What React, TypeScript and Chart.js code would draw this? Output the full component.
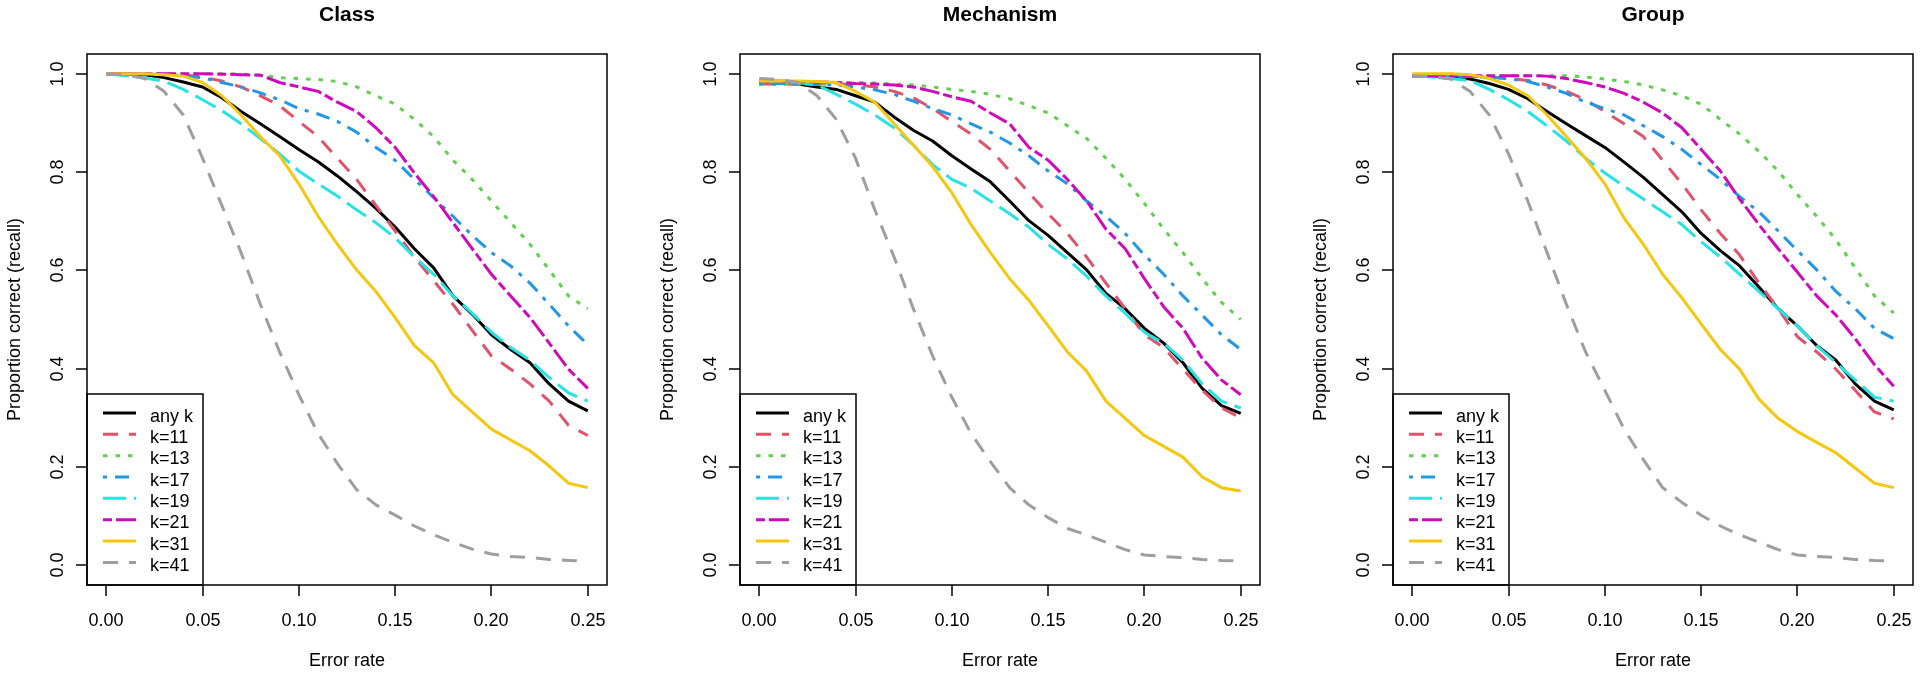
import React, { useEffect, useRef } from "react";
import { Chart, registerables } from "chart.js";

Chart.register(...registerables);

// ---------- data ----------
const X_VALUES = [
  0.0, 0.01, 0.02, 0.03, 0.04, 0.05, 0.06, 0.07, 0.08, 0.09, 0.1, 0.11, 0.12,
  0.13, 0.14, 0.15, 0.16, 0.17, 0.18, 0.19, 0.2, 0.21, 0.22, 0.23, 0.24, 0.25,
];
const X_TICKS = [0, 0.05, 0.1, 0.15, 0.2, 0.25];
const X_TICK_LABELS = ["0.00", "0.05", "0.10", "0.15", "0.20", "0.25"];
const Y_TICKS = [0, 0.2, 0.4, 0.6, 0.8, 1.0];
const Y_TICK_LABELS = ["0.0", "0.2", "0.4", "0.6", "0.8", "1.0"];
const SERIES_LABELS = ["any k", "k=11", "k=13", "k=17", "k=19", "k=21", "k=31", "k=41"];
const PANEL_TITLES = ["Class", "Mechanism", "Group"];
const X_TITLE = "Error rate";
const Y_TITLE = "Proportion correct (recall)";

// Class
const CLASS_ANY = [1.0, 1.0, 0.998, 0.992, 0.983, 0.973, 0.951, 0.923, 0.898, 0.872, 0.846, 0.821, 0.792, 0.76, 0.726, 0.688, 0.644, 0.605, 0.548, 0.511, 0.469, 0.439, 0.412, 0.369, 0.334, 0.314];
const CLASS_K11 = [1.0, 1.0, 1.0, 0.999, 0.998, 0.993, 0.985, 0.973, 0.955, 0.935, 0.903, 0.872, 0.828, 0.785, 0.732, 0.68, 0.627, 0.579, 0.531, 0.478, 0.426, 0.399, 0.369, 0.334, 0.285, 0.264];
const CLASS_K13 = [1.0, 1.0, 1.0, 1.0, 1.0, 1.0, 1.0, 0.999, 0.997, 0.992, 0.99, 0.988, 0.984, 0.973, 0.955, 0.938, 0.907, 0.872, 0.824, 0.785, 0.741, 0.697, 0.653, 0.601, 0.548, 0.522];
const CLASS_K17 = [1.0, 1.0, 0.999, 0.998, 0.995, 0.992, 0.982, 0.973, 0.961, 0.947, 0.929, 0.918, 0.903, 0.881, 0.85, 0.824, 0.785, 0.748, 0.71, 0.671, 0.636, 0.609, 0.574, 0.531, 0.487, 0.449];
const CLASS_K19 = [1.0, 0.996, 0.991, 0.985, 0.968, 0.947, 0.925, 0.898, 0.868, 0.837, 0.802, 0.776, 0.751, 0.723, 0.697, 0.666, 0.627, 0.592, 0.548, 0.513, 0.474, 0.443, 0.417, 0.382, 0.351, 0.334];
const CLASS_K21 = [1.0, 1.0, 1.0, 1.0, 1.0, 1.0, 0.999, 0.998, 0.997, 0.982, 0.973, 0.964, 0.942, 0.923, 0.89, 0.85, 0.798, 0.75, 0.697, 0.644, 0.592, 0.548, 0.504, 0.452, 0.399, 0.36];
const CLASS_K31 = [1.0, 1.0, 1.0, 0.998, 0.995, 0.982, 0.955, 0.916, 0.872, 0.833, 0.776, 0.71, 0.653, 0.601, 0.557, 0.504, 0.447, 0.412, 0.347, 0.312, 0.277, 0.255, 0.233, 0.202, 0.167, 0.158];
const CLASS_K41 = [1.0, 0.998, 0.99, 0.964, 0.916, 0.828, 0.732, 0.636, 0.531, 0.434, 0.347, 0.268, 0.207, 0.154, 0.123, 0.102, 0.08, 0.062, 0.047, 0.033, 0.023, 0.018, 0.016, 0.012, 0.01, 0.008];

// Mechanism
const MECH_ANY = [0.981, 0.981, 0.979, 0.973, 0.968, 0.955, 0.942, 0.912, 0.885, 0.863, 0.833, 0.806, 0.78, 0.741, 0.701, 0.671, 0.636, 0.601, 0.553, 0.522, 0.482, 0.452, 0.412, 0.36, 0.325, 0.309];
const MECH_K11 = [0.979, 0.979, 0.979, 0.979, 0.979, 0.978, 0.973, 0.964, 0.951, 0.929, 0.903, 0.877, 0.846, 0.802, 0.758, 0.715, 0.675, 0.627, 0.574, 0.522, 0.469, 0.443, 0.399, 0.356, 0.32, 0.3];
const MECH_K13 = [0.978, 0.978, 0.979, 0.98, 0.981, 0.982, 0.981, 0.979, 0.977, 0.973, 0.968, 0.964, 0.958, 0.949, 0.935, 0.92, 0.894, 0.868, 0.828, 0.785, 0.736, 0.684, 0.636, 0.583, 0.535, 0.5];
const MECH_K17 = [0.98, 0.98, 0.979, 0.978, 0.977, 0.973, 0.967, 0.958, 0.944, 0.929, 0.916, 0.898, 0.881, 0.859, 0.833, 0.802, 0.776, 0.741, 0.71, 0.675, 0.631, 0.592, 0.548, 0.509, 0.469, 0.439];
const MECH_K19 = [0.985, 0.984, 0.982, 0.977, 0.958, 0.938, 0.916, 0.89, 0.855, 0.815, 0.785, 0.767, 0.741, 0.715, 0.688, 0.653, 0.623, 0.588, 0.548, 0.513, 0.474, 0.452, 0.417, 0.369, 0.334, 0.32];
const MECH_K21 = [0.985, 0.985, 0.984, 0.983, 0.982, 0.98, 0.979, 0.977, 0.973, 0.964, 0.953, 0.944, 0.92, 0.898, 0.85, 0.824, 0.785, 0.741, 0.684, 0.644, 0.583, 0.526, 0.482, 0.421, 0.377, 0.347];
const MECH_K31 = [0.985, 0.985, 0.985, 0.984, 0.982, 0.964, 0.942, 0.898, 0.855, 0.811, 0.758, 0.693, 0.636, 0.583, 0.539, 0.487, 0.434, 0.395, 0.334, 0.299, 0.264, 0.242, 0.22, 0.18, 0.158, 0.151];
const MECH_K41 = [0.99, 0.988, 0.982, 0.955, 0.907, 0.828, 0.723, 0.627, 0.522, 0.426, 0.342, 0.268, 0.211, 0.158, 0.123, 0.097, 0.075, 0.062, 0.047, 0.032, 0.021, 0.018, 0.016, 0.012, 0.01, 0.009];

// Group
const GROUP_ANY = [0.996, 0.996, 0.993, 0.989, 0.98, 0.968, 0.949, 0.923, 0.898, 0.874, 0.85, 0.82, 0.789, 0.754, 0.719, 0.675, 0.64, 0.609, 0.566, 0.522, 0.487, 0.447, 0.417, 0.369, 0.334, 0.316];
const GROUP_K11 = [0.996, 0.996, 0.996, 0.995, 0.993, 0.99, 0.986, 0.977, 0.964, 0.947, 0.923, 0.898, 0.872, 0.824, 0.776, 0.723, 0.675, 0.631, 0.574, 0.522, 0.465, 0.434, 0.399, 0.356, 0.312, 0.298];
const GROUP_K13 = [0.996, 0.996, 0.996, 0.996, 0.996, 0.996, 0.996, 0.996, 0.996, 0.993, 0.989, 0.984, 0.977, 0.967, 0.955, 0.938, 0.907, 0.877, 0.842, 0.802, 0.754, 0.71, 0.662, 0.605, 0.548, 0.513];
const GROUP_K17 = [0.996, 0.996, 0.995, 0.994, 0.993, 0.99, 0.984, 0.973, 0.96, 0.942, 0.929, 0.916, 0.894, 0.872, 0.846, 0.815, 0.785, 0.75, 0.719, 0.68, 0.64, 0.601, 0.557, 0.522, 0.482, 0.461];
const GROUP_K19 = [0.996, 0.993, 0.99, 0.986, 0.968, 0.947, 0.923, 0.894, 0.863, 0.828, 0.798, 0.771, 0.745, 0.719, 0.693, 0.658, 0.627, 0.592, 0.557, 0.522, 0.487, 0.447, 0.412, 0.377, 0.342, 0.334];
const GROUP_K21 = [0.996, 0.996, 0.996, 0.996, 0.996, 0.996, 0.996, 0.995, 0.99, 0.982, 0.973, 0.96, 0.942, 0.92, 0.89, 0.846, 0.802, 0.745, 0.693, 0.644, 0.596, 0.548, 0.509, 0.461, 0.408, 0.364];
const GROUP_K31 = [1.0, 1.0, 1.0, 0.998, 0.99, 0.977, 0.955, 0.916, 0.872, 0.828, 0.776, 0.706, 0.653, 0.592, 0.544, 0.491, 0.439, 0.399, 0.338, 0.299, 0.272, 0.25, 0.229, 0.198, 0.167, 0.158];
const GROUP_K41 = [0.996, 0.994, 0.989, 0.964, 0.916, 0.837, 0.741, 0.636, 0.531, 0.434, 0.356, 0.277, 0.215, 0.158, 0.128, 0.102, 0.08, 0.062, 0.047, 0.032, 0.021, 0.018, 0.016, 0.012, 0.01, 0.009];

const PANEL_SERIES = [
  [CLASS_ANY, CLASS_K11, CLASS_K13, CLASS_K17, CLASS_K19, CLASS_K21, CLASS_K31, CLASS_K41],
  [MECH_ANY, MECH_K11, MECH_K13, MECH_K17, MECH_K19, MECH_K21, MECH_K31, MECH_K41],
  [GROUP_ANY, GROUP_K11, GROUP_K13, GROUP_K17, GROUP_K19, GROUP_K21, GROUP_K31, GROUP_K41],
];

// ---------- styles ----------
const SERIES_COLORS = ["#000000", "#DF536B", "#61D04F", "#2297E6", "#28E2E5", "#CD0BBC", "#F5C710", "#9E9E9E"];
const SERIES_DASHES: number[][] = [[], [15, 11], [4.5, 8], [4, 8, 14, 8], [23, 8], [9, 4, 20, 4], [], [15, 11]];
const FONT = '"Liberation Sans", Arial, sans-serif';

const CANVAS_W = 614;
const CANVAS_H = 673;
const PANEL_LEFTS = [0, 653, 1306];

const decorPlugin = {
  id: "rDecor",
  afterDatasetsDraw(chart: any, _args: any, opts: any) {
    const { ctx, chartArea: ca, scales } = chart;
    const xs = scales.x;
    const ys = scales.y;
    ctx.save();
    ctx.strokeStyle = "#000";
    ctx.fillStyle = "#000";
    ctx.lineWidth = 1.5;
    ctx.setLineDash([]);

    // legend box
    const lgLeft = ca.left;
    const lgRight = ca.left + 116;
    const lgTop = ca.bottom - 191;
    ctx.fillStyle = "#fff";
    ctx.fillRect(lgLeft, lgTop, lgRight - lgLeft, ca.bottom - lgTop);
    ctx.strokeRect(lgLeft, lgTop, lgRight - lgLeft, ca.bottom - lgTop);
    ctx.font = `18px ${FONT}`;
    ctx.textAlign = "left";
    ctx.textBaseline = "alphabetic";
    chart.data.datasets.forEach((ds: any, i: number) => {
      const ly = ca.bottom - 172 + i * 21.34;
      ctx.save();
      ctx.strokeStyle = ds.borderColor;
      ctx.lineWidth = ds.borderWidth;
      ctx.lineCap = "butt";
      ctx.setLineDash(ds.borderDash || []);
      ctx.beginPath();
      ctx.moveTo(lgLeft + 16, ly);
      ctx.lineTo(lgLeft + 49, ly);
      ctx.stroke();
      ctx.restore();
      ctx.fillStyle = "#000";
      ctx.fillText(ds.label, lgLeft + 63, ly + 8.5);
    });

    // plot box
    ctx.strokeStyle = "#000";
    ctx.lineWidth = 1.5;
    ctx.strokeRect(ca.left, ca.top, ca.right - ca.left, ca.bottom - ca.top);

    // x axis ticks + labels
    ctx.fillStyle = "#000";
    ctx.font = `18px ${FONT}`;
    ctx.textAlign = "center";
    ctx.textBaseline = "alphabetic";
    X_TICKS.forEach((v, i) => {
      const px = Math.round(xs.getPixelForValue(v));
      ctx.beginPath();
      ctx.moveTo(px, ca.bottom);
      ctx.lineTo(px, ca.bottom + 11);
      ctx.stroke();
      ctx.fillText(X_TICK_LABELS[i], px, ca.bottom + 41);
    });

    // y axis ticks + rotated labels
    Y_TICKS.forEach((v, i) => {
      const py = Math.round(ys.getPixelForValue(v));
      ctx.beginPath();
      ctx.moveTo(ca.left - 11, py);
      ctx.lineTo(ca.left, py);
      ctx.stroke();
      ctx.save();
      ctx.translate(ca.left - 24, py);
      ctx.rotate(-Math.PI / 2);
      ctx.textAlign = "center";
      ctx.fillText(Y_TICK_LABELS[i], 0, 0);
      ctx.restore();
    });

    // axis titles
    const cx = (ca.left + ca.right) / 2;
    const cy = (ca.top + ca.bottom) / 2;
    ctx.textAlign = "center";
    ctx.fillText(X_TITLE, cx, ca.bottom + 81);
    ctx.save();
    ctx.translate(ca.left - 67, cy);
    ctx.rotate(-Math.PI / 2);
    ctx.fillText(Y_TITLE, 0, 0);
    ctx.restore();

    // main title
    ctx.font = `bold 21px ${FONT}`;
    ctx.fillText(opts.title, cx, ca.top - 33);
    ctx.restore();
  },
};

function Panel({ index }: { index: number }) {
  const ref = useRef<HTMLCanvasElement | null>(null);
  useEffect(() => {
    const canvas = ref.current;
    if (!canvas) return;
    const series = PANEL_SERIES[index];
    const chart = new Chart(canvas, {
      type: "line",
      data: {
        datasets: SERIES_LABELS.map((label, i) => ({
          label,
          data: X_VALUES.map((x, j) => ({ x, y: series[i][j] })),
          borderColor: SERIES_COLORS[i],
          backgroundColor: SERIES_COLORS[i],
          borderWidth: 3,
          borderDash: SERIES_DASHES[i],
          borderCapStyle: "butt",
          borderJoinStyle: "round",
          pointRadius: 0,
          pointHoverRadius: 0,
          tension: 0,
          fill: false,
          order: SERIES_LABELS.length - i,
        })),
      },
      options: {
        responsive: false,
        maintainAspectRatio: false,
        animation: false,
        devicePixelRatio: 1,
        events: [],
        layout: { padding: { left: 87, top: 54, right: CANVAS_W - 607, bottom: CANVAS_H - 585 } },
        scales: {
          x: { type: "linear", min: -0.01, max: 0.26, display: false },
          y: { type: "linear", min: -0.04, max: 1.04, display: false },
        },
        plugins: {
          legend: { display: false },
          title: { display: false },
          tooltip: { enabled: false },
          rDecor: { title: PANEL_TITLES[index] },
        } as any,
      },
      plugins: [decorPlugin],
    } as any);
    return () => chart.destroy();
  }, [index]);
  return (
    <canvas
      ref={ref}
      width={CANVAS_W}
      height={CANVAS_H}
      style={{ position: "absolute", left: PANEL_LEFTS[index], top: 0, width: CANVAS_W, height: CANVAS_H }}
    />
  );
}

export default function App() {
  return (
    <div style={{ position: "absolute", left: 0, top: 0, width: 1920, height: 673, background: "#fff", overflow: "hidden" }}>
      <Panel index={0} />
      <Panel index={1} />
      <Panel index={2} />
    </div>
  );
}
